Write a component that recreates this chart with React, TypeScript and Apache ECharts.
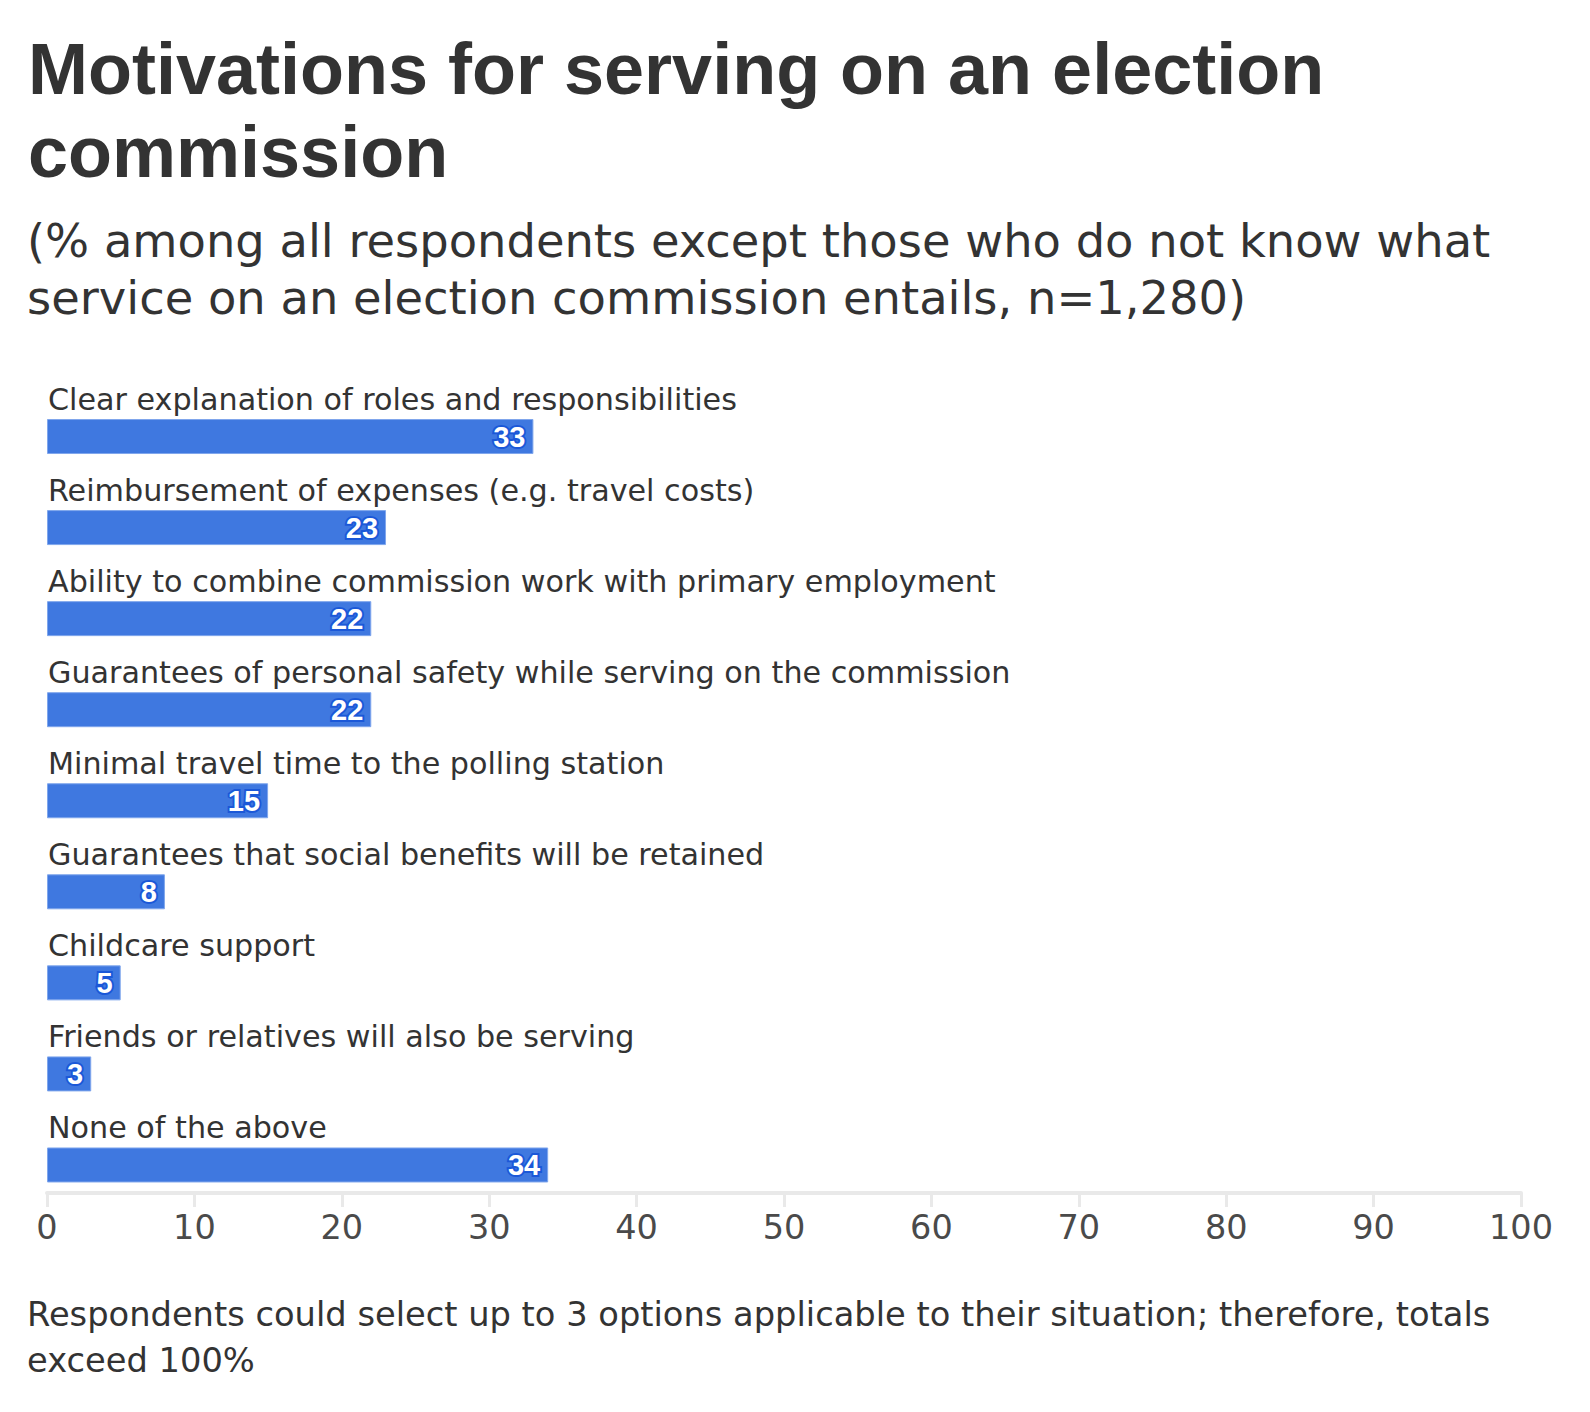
import React, { useEffect, useRef } from "react";
import * as echarts from "echarts";

const categories = [
  "Clear explanation of roles and responsibilities",
  "Reimbursement of expenses (e.g. travel costs)",
  "Ability to combine commission work with primary employment",
  "Guarantees of personal safety while serving on the commission",
  "Minimal travel time to the polling station",
  "Guarantees that social benefits will be retained",
  "Childcare support",
  "Friends or relatives will also be serving",
  "None of the above",
];
const values = [33, 23, 22, 22, 15, 8, 5, 3, 34];
const xTicks = [0, 10, 20, 30, 40, 50, 60, 70, 80, 90, 100];

const titleText = "Motivations for serving on an election\ncommission";
const subtitleText =
  "(% among all respondents except those who do not know what\nservice on an election commission entails, n=1,280)";
const footnoteText =
  "Respondents could select up to 3 options applicable to their situation; therefore, totals\nexceed 100%";

const TITLE_FONT = "'Liberation Sans', Arial, sans-serif";
const FONT = "'DejaVu Sans', 'Noto Sans', sans-serif";

export default function App() {
  const ref = useRef<HTMLDivElement>(null);
  useEffect(() => {
    if (!ref.current) return;
    const chart = echarts.init(ref.current, undefined, { renderer: "svg" });
    chart.setOption({
      animation: false,
      backgroundColor: "#ffffff",
      graphic: [
        {
          type: "text",
          left: 28,
          top: 27,
          style: {
            text: titleText,
            font: `bold 72px ${TITLE_FONT}`,
            lineHeight: 83,
            fill: "#333333",
          },
        },
        {
          type: "text",
          left: 27,
          top: 212,
          style: {
            text: subtitleText,
            font: `normal 46.4px ${FONT}`,
            lineHeight: 57,
            fill: "#333333",
          },
        },
        {
          type: "text",
          left: 27,
          top: 1291,
          style: {
            text: footnoteText,
            font: `normal 33.7px ${FONT}`,
            lineHeight: 46,
            fill: "#333333",
          },
        },
      ],
      grid: {
        left: 47,
        right: 69,
        top: 391,
        bottom: 201.5,
        containLabel: false,
      },
      xAxis: {
        type: "value",
        min: 0,
        max: 100,
        interval: 10,
        offset: -17.5,
        axisLine: { show: true, lineStyle: { color: "#e9e9e9", width: 4 } },
        axisTick: { show: true, length: 14, lineStyle: { color: "#e9e9e9", width: 3 } },
        splitLine: { show: false },
        axisLabel: {
          fontSize: 33.5,
          fontFamily: FONT,
          color: "#4a4a4a",
          margin: 17,
          customValues: xTicks,
        },
      },
      yAxis: {
        type: "category",
        data: categories,
        inverse: true,
        axisLine: { show: false },
        axisTick: { show: false },
        axisLabel: {
          inside: true,
          margin: 1,
          fontSize: 30.2,
          fontFamily: FONT,
          color: "#333333",
          verticalAlign: "bottom",
          lineHeight: 36,
          padding: [0, 0, 19.5, 0],
        },
      },
      series: [
        {
          type: "bar",
          data: values,
          barWidth: 35,
          itemStyle: {
            color: "#3f78e0",
            borderColor: "#7fa6ec",
            borderWidth: 1,
          },
          label: {
            show: true,
            position: "insideRight",
            distance: 8,
            color: "#ffffff",
            fontSize: 29,
            fontWeight: "bold",
            fontFamily: "'Liberation Sans', Arial, sans-serif",
            textBorderColor: "#1b58d8",
            textBorderWidth: 4,
          },
        },
      ],
    });
    return () => chart.dispose();
  }, []);
  return (
    <div
      ref={ref}
      style={{ position: "absolute", left: 0, top: 0, width: 1590, height: 1412 }}
    />
  );
}
